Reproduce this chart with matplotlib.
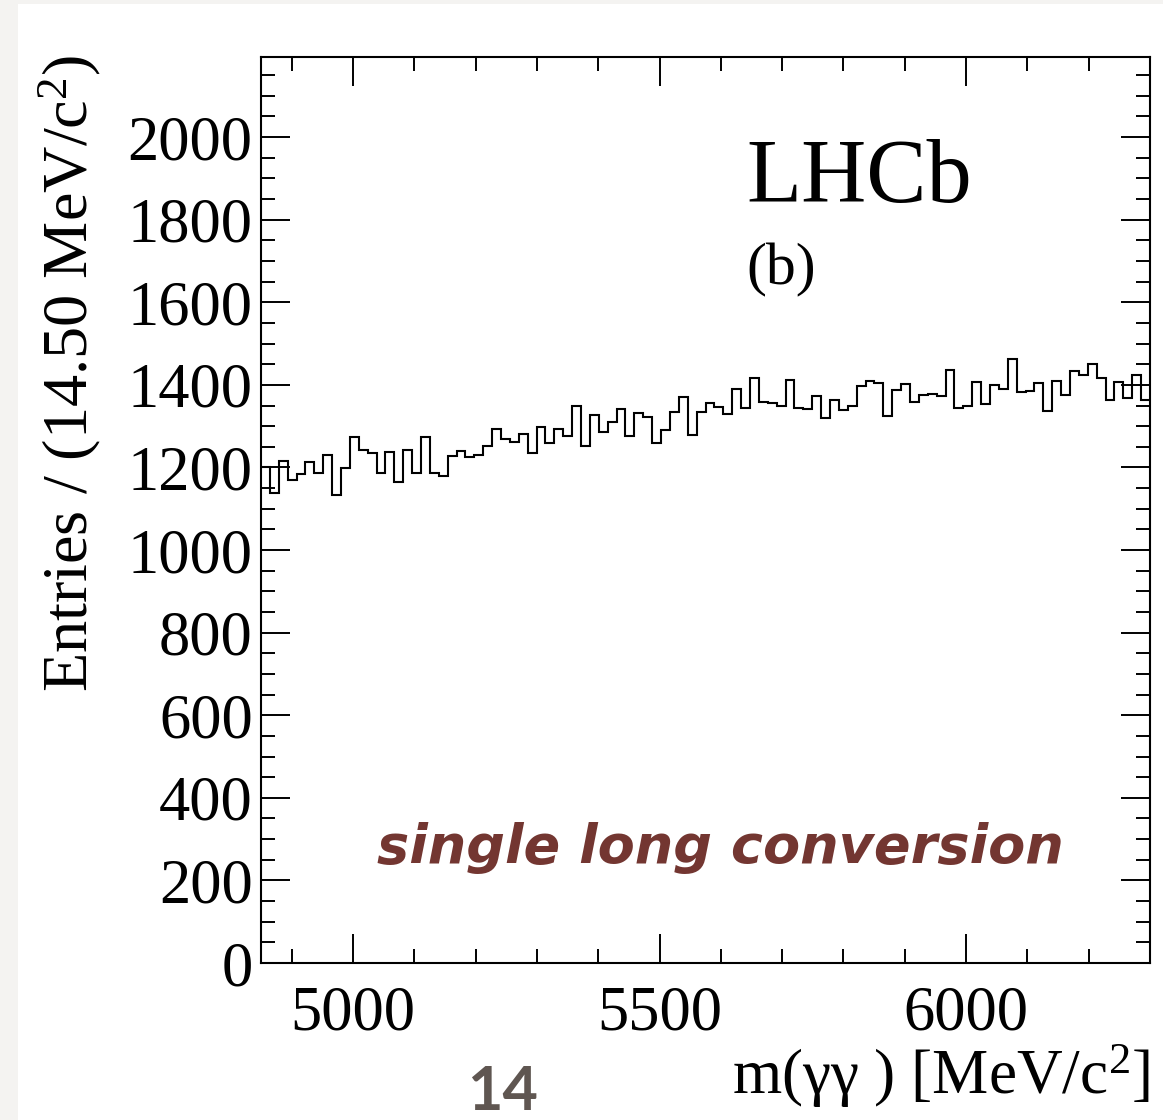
import numpy as np
import matplotlib
matplotlib.use("Agg")
import matplotlib.pyplot as plt
from matplotlib.ticker import MultipleLocator
from matplotlib.patches import Rectangle

plt.rcParams['font.family'] = ['Liberation Serif', 'DejaVu Serif']
plt.rcParams['mathtext.fontset'] = 'custom'
plt.rcParams['mathtext.rm'] = 'Liberation Serif'
plt.rcParams['mathtext.it'] = 'Liberation Serif:italic'

# ----------------------------------------------
# Data : m(gg) histogram, 100 bins of 14.50 MeV
# ----------------------------------------------

m_lo, m_hi = 4850, 6300
nbins = 100
counts = [1202, 1138, 1215, 1169, 1184, 1213, 1187, 1229, 1134, 1199,
          1273, 1243, 1235, 1186, 1238, 1164, 1243, 1187, 1274, 1186,
          1180, 1227, 1239, 1226, 1231, 1251, 1293, 1270, 1261, 1281,
          1236, 1298, 1259, 1294, 1276, 1349, 1253, 1326, 1287, 1310,
          1342, 1276, 1331, 1322, 1259, 1291, 1334, 1370, 1278, 1335,
          1357, 1346, 1329, 1389, 1344, 1417, 1358, 1357, 1350, 1411,
          1344, 1341, 1373, 1321, 1364, 1340, 1349, 1397, 1409, 1405,
          1325, 1387, 1403, 1358, 1376, 1379, 1373, 1435, 1344, 1349,
          1406, 1354, 1399, 1391, 1463, 1383, 1384, 1405, 1337, 1409,
          1376, 1433, 1425, 1450, 1417, 1363, 1408, 1368, 1425, 1364]

edges = np.linspace(m_lo, m_hi, nbins + 1)

# ----------------------------------------------
# Figure (slide screenshot look)
# ----------------------------------------------

W, H = 1163, 1120
fig = plt.figure(figsize=(W / 100, H / 100), dpi=100, facecolor='#f4f3f1')
fig.patches.append(Rectangle((18 / W, 0), 1, 1 - 4 / H, transform=fig.transFigure,
                             facecolor='white', edgecolor='none', zorder=-10))

ax = fig.add_axes([261 / W, 1 - 963 / H, (1150 - 261) / W, (963 - 57) / H])
ax.set_zorder(5)
ax.stairs(counts, edges, baseline=None, color='black', linewidth=1.5)

ax.set_xlim(m_lo, m_hi)
ax.set_ylim(0, 2194)

ax.xaxis.set_major_locator(MultipleLocator(500))
ax.xaxis.set_minor_locator(MultipleLocator(100))
ax.yaxis.set_major_locator(MultipleLocator(200))
ax.yaxis.set_minor_locator(MultipleLocator(50))

for s in ax.spines.values():
    s.set_linewidth(1.5)

ax.tick_params(which='both', direction='in', top=True, right=True, width=1.4)
ax.tick_params(which='major', length=21)
ax.tick_params(which='minor', length=10)
ax.tick_params(axis='y', which='major', labelsize=45, pad=6)
ax.tick_params(axis='x', which='major', labelsize=45, pad=16)

# labels
fig.text(70 / W, 1 - 55 / H, r"Entries / (14.50 MeV/c$^{2}$)", rotation=90,
         ha='center', va='top', fontsize=46.3, zorder=6)
fig.text(1150 / W, 1 - 1076 / H, r"m(γγ ) [MeV/c$^{2}$]",
         ha='right', va='center', fontsize=45.5, zorder=6)

fig.text(746 / W, 1 - 202 / H, "LHCb", ha='left', va='baseline', fontsize=65, zorder=6)
fig.text(746 / W, 1 - 284 / H, "(b)", ha='left', va='baseline', fontsize=43, zorder=6)

fig.text(377 / W, 1 - 863 / H, "single long conversion", ha='left', va='baseline',
         fontsize=39, family=['DejaVu Sans'], weight='bold', style='italic',
         color='#733631', zorder=6)

fig.text(502 / W, 1 - 1110 / H, "14", ha='center', va='baseline', fontsize=44,
         family=['Lato', 'DejaVu Sans'], weight='bold', color='#5f5651', zorder=6)

fig.savefig("out.png", dpi=100, facecolor=fig.get_facecolor())
